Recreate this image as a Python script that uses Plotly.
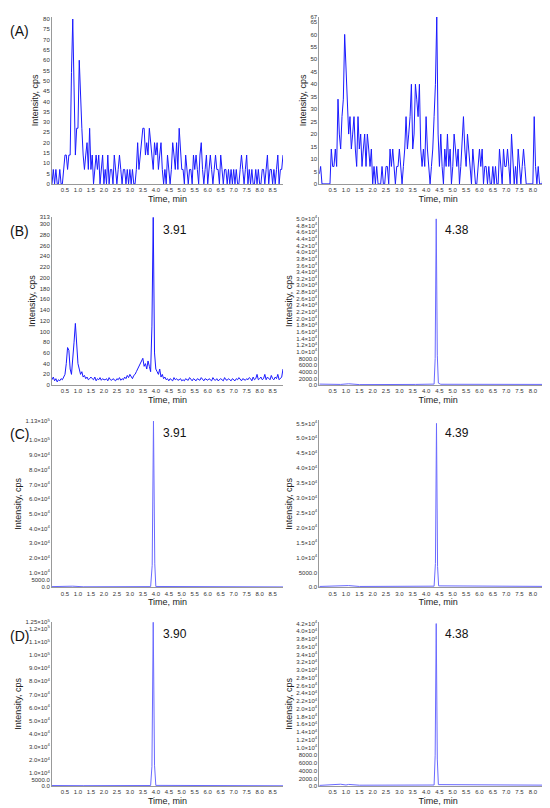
import plotly.graph_objects as go

# noisy traces sampled every 0.05 min from 0.0 to 8.9
STEP = 0.05
a_left = [0, 7, 0, 7, 0, 0, 7, 0, 0, 7, 14,
          14, 7, 14, 14, 54, 80, 47, 14, 27, 27,
          60, 40, 27, 14, 7, 14, 20, 7, 27, 7,
          14, 0, 7, 14, 7, 14, 0, 7, 14, 0,
          7, 0, 14, 0, 7, 7, 0, 14, 7, 0,
          7, 14, 7, 0, 7, 7, 0, 7, 0, 7,
          0, 7, 0, 0, 7, 20, 7, 14, 20, 27,
          27, 14, 20, 14, 27, 20, 14, 7, 20, 14,
          20, 7, 14, 20, 7, 0, 7, 0, 14, 7,
          0, 7, 20, 14, 7, 20, 7, 27, 14, 7,
          7, 0, 14, 7, 0, 7, 7, 0, 14, 7,
          14, 7, 0, 14, 20, 7, 0, 7, 14, 0,
          7, 14, 7, 0, 7, 14, 7, 7, 0, 14,
          7, 0, 7, 7, 0, 7, 0, 7, 0, 7,
          0, 7, 0, 0, 7, 14, 7, 0, 7, 14,
          0, 7, 0, 7, 0, 0, 7, 0, 7, 0,
          0, 7, 7, 0, 7, 14, 0, 7, 7, 0,
          7, 0, 7, 14, 0, 7, 7, 14]
a_right = [4, 7, 0, 0, 0, 0, 0, 0, 0, 14, 7,
           7, 14, 7, 34, 20, 14, 27, 34, 60, 47,
           34, 20, 27, 14, 20, 27, 14, 7, 27, 14,
           20, 7, 14, 20, 7, 20, 14, 7, 14, 0,
           7, 0, 7, 0, 0, 0, 7, 0, 0, 7,
           7, 0, 14, 7, 14, 7, 0, 7, 7, 14,
           7, 0, 7, 14, 27, 14, 20, 27, 40, 14,
           20, 40, 34, 27, 40, 14, 7, 14, 7, 27,
           14, 7, 0, 7, 14, 27, 40, 67, 20, 7,
           20, 7, 0, 14, 7, 20, 7, 14, 0, 7,
           20, 14, 7, 14, 0, 7, 20, 27, 14, 7,
           20, 14, 7, 0, 14, 7, 0, 0, 7, 14,
           7, 14, 0, 7, 7, 0, 7, 0, 0, 7,
           0, 7, 0, 0, 14, 7, 0, 14, 7, 7,
           14, 7, 0, 20, 7, 0, 7, 0, 14, 7,
           0, 7, 14, 7, 0, 0, 0, 0, 0, 0,
           27, 7, 0, 7, 0, 0, 0, 7, 0, 0,
           7, 0, 0, 7, 0, 7, 0, 20]
b_left = [10, 15, 8, 12, 6, 10, 8, 12, 10, 15, 20,
          40, 70, 65, 30, 20, 60, 80, 115, 70, 40,
          30, 20, 25, 15, 18, 12, 15, 10, 12, 15,
          12, 10, 15, 8, 12, 10, 14, 9, 12, 10,
          10, 12, 8, 14, 10, 9, 12, 10, 8, 12,
          10, 14, 9, 12, 10, 15, 12, 18, 14, 20,
          15, 12, 18, 20, 25, 30, 35, 40, 45, 50,
          35, 40, 30, 45, 35, 25, 110, 313, 60, 30,
          25, 20, 30, 15, 20, 12, 15, 10, 12, 8,
          12, 10, 8, 14, 10, 12, 9, 10, 12, 8,
          10, 8, 12, 10, 9, 14, 10, 8, 12, 10,
          8, 12, 10, 9, 14, 10, 8, 12, 10, 9,
          12, 10, 8, 14, 10, 9, 12, 8, 10, 12,
          10, 8, 14, 10, 9, 12, 10, 8, 12, 10,
          8, 12, 10, 14, 10, 8, 12, 10, 9, 12,
          10, 14, 12, 8, 15, 10, 12, 20, 10, 12,
          15, 10, 12, 20, 10, 15, 12, 10, 18, 12,
          10, 15, 12, 20, 10, 12, 15, 30]

# single-peak traces
b_right_t = [0, 0.8, 1.1, 1.5, 3.6, 4.3, 4.34, 4.38, 4.42, 4.46, 4.55, 8.9]
b_right_y = [300, 200, 400, 150, 200, 300, 8000, 50000, 9000, 600, 250, 200]
c_left_t = [0, 0.8, 1.2, 3.8, 3.86, 3.91, 3.96, 4.0, 8.9]
c_left_y = [500, 800, 400, 500, 15000, 113000, 16000, 600, 300]
c_right_t = [0, 0.8, 1.1, 1.5, 3.6, 4.3, 4.35, 4.39, 4.43, 4.47, 8.9]
c_right_y = [300, 500, 600, 300, 400, 400, 8000, 55000, 7000, 500, 300]
d_left_t = [0, 0.8, 1.2, 3.8, 3.85, 3.90, 3.95, 4.0, 8.9]
d_left_y = [500, 700, 400, 500, 15000, 125000, 16000, 600, 300]
d_right_t = [0, 0.8, 1.0, 1.1, 1.5, 3.65, 4.3, 4.34, 4.38, 4.42, 4.46, 8.9]
d_right_y = [200, 500, 300, 450, 250, 400, 300, 8000, 42000, 7000, 400, 250]

peak_labels = ["3.91", "4.38", "3.91", "4.39", "3.90", "4.38"]
panel_labels = ["(A)", "(B)", "(C)", "(D)"]


def sci(m, e):
    return f"{m:.1f}×10<sup>{e}</sup>"


def grid_t(n):
    return [round(i * STEP, 2) for i in range(n)]


ROW_DOM = [(0.7854, 0.9938), (0.5342, 0.7438), (0.2817, 0.4901), (0.0335, 0.2389)]
COL_DOM = [(0.08, 0.5), (0.566, 0.998)]

# (x, y, y max, tickvals, ticktext, colour)
panels = [
    (grid_t(len(a_left)), a_left, 81, list(range(0, 81, 5)),
     [str(v) for v in range(0, 81, 5)], "#1a1aff"),
    (grid_t(len(a_right)), a_right, 67, list(range(0, 66, 5)) + [67],
     [str(v) for v in range(0, 66, 5)] + ["67"], "#1a1aff"),
    (grid_t(len(b_left)), b_left, 313, list(range(0, 301, 20)) + [313],
     [str(v) for v in range(0, 301, 20)] + ["313"], "#1a1aff"),
    (b_right_t, b_right_y, 50500,
     [0, 2000, 4000, 6000, 8000] + [v * 2000 for v in range(5, 26)],
     ["0.0", "2000.0", "4000.0", "6000.0", "8000.0"] + [sci(v * 0.2, 4) for v in range(5, 26)],
     "#6a6aff"),
    (c_left_t, c_left_y, 113500,
     [0, 5000] + [v * 10000 for v in range(1, 11)] + [113000],
     ["0.0", "5000.0"] + [sci(v, 4) for v in range(1, 10)] + [sci(1.0, 5), "1.13×10<sup>5</sup>"],
     "#6a6aff"),
    (c_right_t, c_right_y, 56000,
     [0, 5000] + [v * 5000 for v in range(2, 12)],
     ["0.0", "5000.0"] + [sci(v * 0.5, 4) for v in range(2, 12)], "#6a6aff"),
    (d_left_t, d_left_y, 125500,
     [0, 5000] + [v * 10000 for v in range(1, 13)] + [125000],
     ["0.0", "5000.0"] + [sci(v, 4) for v in range(1, 10)]
     + [sci(1.0, 5), sci(1.1, 5), sci(1.2, 5), "1.25×10<sup>5</sup>"], "#6a6aff"),
    (d_right_t, d_right_y, 42500,
     [0, 2000, 4000, 6000, 8000] + [v * 2000 for v in range(5, 22)],
     ["0.0", "2000.0", "4000.0", "6000.0", "8000.0"] + [sci(v * 0.2, 4) for v in range(5, 22)],
     "#6a6aff"),
]

fig = go.Figure()
xticks = [v / 2 for v in range(1, 18)]

for i, (xs, ys, ymax, tv, tt, col) in enumerate(panels):
    row, c = divmod(i, 2)
    n = "" if i == 0 else str(i + 1)
    fig.add_trace(go.Scatter(x=xs, y=ys, mode="lines", line=dict(color=col, width=1),
                             xaxis="x" + n, yaxis="y" + n, showlegend=False))
    fig.layout["xaxis" + n] = dict(
        domain=COL_DOM[c], anchor="y" + n, range=[0, 8.9], tickvals=xticks,
        ticktext=[f"{v:.1f}" for v in xticks], tickfont=dict(size=6, color="#333"),
        showline=True, linecolor="#999", linewidth=1, showgrid=False, zeroline=False,
        ticks="", title=dict(text="Time, min", font=dict(size=9, color="#222"), standoff=3))
    fig.layout["yaxis" + n] = dict(
        domain=ROW_DOM[row], anchor="x" + n, range=[0, ymax], tickvals=tv, ticktext=tt,
        tickfont=dict(size=6, color="#333"), showline=True, linecolor="#999", linewidth=1,
        showgrid=False, zeroline=False, ticks="",
        title=dict(text="Intensity, cps", font=dict(size=9, color="#222"), standoff=2))
    if i >= 2:
        fig.add_annotation(text=peak_labels[i - 2], xref="x" + n + " domain", yref="y" + n + " domain",
                           x=0.47 if c == 0 else 0.52, y=0.98, xanchor="left", yanchor="top",
                           showarrow=False, font=dict(size=12, color="#111"))

for r, lab in enumerate(panel_labels):
    fig.add_annotation(text=lab, xref="paper", yref="paper", x=0.0, y=ROW_DOM[r][1] - 0.005,
                       xanchor="left", yanchor="top", showarrow=False,
                       font=dict(size=14, color="#111"))

fig.update_layout(width=550, height=808, margin=dict(l=0, r=0, t=0, b=0),
                  paper_bgcolor="white", plot_bgcolor="white",
                  font=dict(family="Liberation Sans, Arial"))
fig.write_html("out.html")
